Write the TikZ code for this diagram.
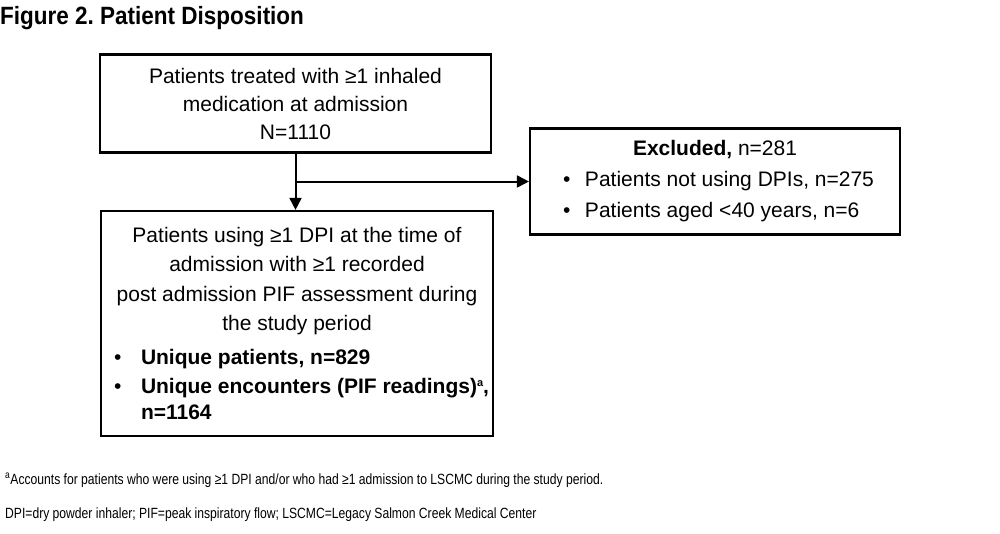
\documentclass[tikz,border=0pt]{standalone}
\usepackage{fontspec}
\setmainfont{Liberation Sans}
\newfontfamily\narrowfont[FakeStretch=0.82]{Liberation Sans}
\newfontfamily\titlefont[FakeStretch=0.9]{Liberation Sans}
\usetikzlibrary{arrows.meta}
\frenchspacing
\newlength{\bulletrest}
\newcommand{\bulletline}[3]{\par\noindent\hspace*{#1}\makebox[\dimexpr#2-#1\relax][l]{•}%
  \setlength{\bulletrest}{\dimexpr\linewidth-#2\relax}%
  \parbox[t]{\bulletrest}{\raggedright #3}\par}
\newcommand{\smallsup}[1]{\raisebox{7pt}{\fontsize{11}{11}\selectfont #1}}
\begin{document}
\begin{tikzpicture}[x=1pt,y=-1pt,
  box/.style={draw=black, line width=2.2pt, inner sep=0pt, rectangle},
  conn/.style={line width=2pt, -{Triangle[length=12pt,width=12pt]}},
  main/.style={font=\fontsize{21}{29.5}\selectfont},
  note/.style={font=\narrowfont\fontsize{14.8}{15}\selectfont, anchor=base west, inner sep=0pt}]
\useasboundingbox (0,0) rectangle (1000,533);
\fill[white] (0,0) rectangle (1000,533);

\node[anchor=base west, inner sep=0pt, font=\titlefont\bfseries\fontsize{25}{26}\selectfont] (title) at (0,24) {Figure 2. Patient Disposition};

\node[box, main, minimum width=391pt, minimum height=98pt, align=center,
      font=\fontsize{21}{28}\selectfont] (top) at (295.5,103.5)
  {Patients treated with ≥1 inhaled\\ medication at admission\\ N=1110};

\node[box, main, minimum width=392pt, minimum height=225pt] (elig) at (297,323.5)
  {\begin{minipage}{392pt}\fontsize{21}{29.5}\selectfont
   \centering
   Patients using ≥1 DPI at the time of\\
   admission with ≥1 recorded\\
   post admission PIF assessment during\\
   the study period\par
   \vspace{4pt}\raggedright
   \bulletline{13pt}{40pt}{\textbf{Unique patients, n=829}}
   \bulletline{13pt}{40pt}{\fontsize{21}{26}\selectfont\textbf{Unique encounters (PIF readings)\smallsup{a},}\\\textbf{n=1164}}
   \end{minipage}};

\node[box, main, minimum width=370pt, minimum height=106pt] (excl) at (715,181.5)
  {\begin{minipage}{370pt}\fontsize{21}{31}\selectfont
   \centering
   \textbf{Excluded,} n=281\par
   \raggedright
   \bulletline{33pt}{55pt}{Patients not using DPIs, n=275}
   \bulletline{33pt}{55pt}{Patients aged <40 years, n=6}
   \end{minipage}};

\coordinate (branch) at (top.south |- excl.west);
\draw[conn] (top.south) -- (top.south |- elig.north);
\draw[conn] (branch) -- (branch -| excl.west);

\node[note] (fn1) at (5,484) {\textsuperscript{a}Accounts for patients who were using ≥1 DPI and/or who had ≥1 admission to LSCMC during the study period.};
\node[note] (fn2) at (5,518) {DPI=dry powder inhaler; PIF=peak inspiratory flow; LSCMC=Legacy Salmon Creek Medical Center};
\end{tikzpicture}
\end{document}
